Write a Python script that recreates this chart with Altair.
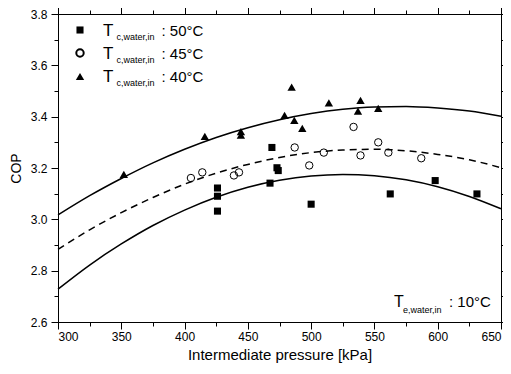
import altair as alt
import pandas as pd

# ---- data ----
p50 = [426, 426, 426, 469, 467.5, 473, 474, 500, 562.5, 598, 631]
cop50 = [3.122, 3.090, 3.032, 3.280, 3.141, 3.201, 3.190, 3.059, 3.099, 3.151, 3.099]

p45 = [405, 414, 439, 443, 487, 498.5, 510, 533.5, 539, 553, 561, 587]
cop45 = [3.161, 3.183, 3.171, 3.183, 3.280, 3.210, 3.260, 3.360, 3.249, 3.300, 3.260, 3.238]

p40 = [352, 416, 444.5, 444.5, 479, 484.6, 486.7, 493, 514, 537, 539, 553]
cop40 = [3.175, 3.323, 3.342, 3.328, 3.405, 3.515, 3.386, 3.354, 3.454, 3.422, 3.463, 3.432]

fit_p = [300, 325, 350, 375, 400, 425, 450, 475, 500, 525, 550, 575, 600, 625, 650]
fit50 = [2.728, 2.822, 2.904, 2.976, 3.036, 3.086, 3.125, 3.152, 3.169, 3.175, 3.170, 3.154, 3.127, 3.089, 3.041]
fit45 = [2.883, 2.959, 3.026, 3.085, 3.137, 3.180, 3.214, 3.241, 3.260, 3.270, 3.273, 3.267, 3.253, 3.232, 3.201]
fit40 = [3.017, 3.092, 3.159, 3.220, 3.273, 3.319, 3.357, 3.388, 3.412, 3.429, 3.438, 3.440, 3.434, 3.422, 3.402]

x_ticks = [300, 325, 350, 375, 400, 425, 450, 475, 500, 525, 550, 575, 600, 625, 650]
y_ticks = [2.6, 2.7, 2.8, 2.9, 3.0, 3.1, 3.2, 3.3, 3.4, 3.5, 3.6, 3.7, 3.8]

legend_labels = [": 50°C", ": 45°C", ": 40°C"]
legend_shapes = ["square", "circle", "triangle-up"]
legend_filled = [True, False, True]
legend_sizes = [50, 55, 70]

FONT = "Liberation Sans"
W, H = 443, 308

xscale = alt.Scale(domain=[300, 650], nice=False, zero=False)
yscale = alt.Scale(domain=[2.6, 3.8], nice=False, zero=False)

xtick_size = {"condition": {"test": "datum.value % 50 != 0", "value": 4}, "value": 7}
ytick_size = {"condition": {"test": "round(datum.value*10) % 2 != 0", "value": 4}, "value": 7}

x_axis = alt.Axis(values=x_ticks, tickSize=xtick_size, grid=False,
                  labelExpr="datum.value % 50 == 0 ? datum.label : ''",
                  labelFontSize=12, labelPadding=2, labelColor="black",
                  titleFontSize=15, titleFontWeight="normal", titlePadding=5,
                  titleColor="black", domainColor="black", tickColor="black",
                  title="Intermediate pressure [kPa]")
y_axis = alt.Axis(values=y_ticks, tickSize=ytick_size, grid=False,
                  labelExpr="round(datum.value*10) % 2 == 0 ? format(datum.value, '.1f') : ''",
                  labelFontSize=12, labelPadding=4, labelColor="black",
                  titleFontSize=14, titleFontWeight="normal", titlePadding=7,
                  titleColor="black", domainColor="black", tickColor="black",
                  title="COP")
top_axis = alt.Axis(orient="top", values=x_ticks, tickSize=xtick_size, labels=False,
                    title=None, grid=False, domainColor="black", tickColor="black")
right_axis = alt.Axis(orient="right", values=y_ticks, tickSize=ytick_size, labels=False,
                      title=None, grid=False, domainColor="black", tickColor="black")

fits = pd.DataFrame({"p": fit_p, "f50": fit50, "f45": fit45, "f40": fit40})

line50 = alt.Chart(fits).mark_line(color="black", strokeWidth=1.5, interpolate="monotone").encode(
    x=alt.X("p:Q", scale=xscale, axis=x_axis),
    y=alt.Y("f50:Q", scale=yscale, axis=y_axis),
)
line45 = alt.Chart(fits).mark_line(color="black", strokeWidth=1.5, strokeDash=[7, 5],
                                   interpolate="monotone").encode(
    x=alt.X("p:Q", scale=xscale, axis=None),
    y=alt.Y("f45:Q", scale=yscale, axis=None),
)
line40 = alt.Chart(fits).mark_line(color="black", strokeWidth=1.5, interpolate="monotone").encode(
    x=alt.X("p:Q", scale=xscale, axis=None),
    y=alt.Y("f40:Q", scale=yscale, axis=None),
)
frame = alt.Chart(fits).mark_line(opacity=0).encode(
    x=alt.X("p:Q", scale=xscale, axis=top_axis),
    y=alt.Y("f40:Q", scale=yscale, axis=right_axis),
)

d50 = pd.DataFrame({"p": p50, "cop": cop50})
d45 = pd.DataFrame({"p": p45, "cop": cop45})
d40 = pd.DataFrame({"p": p40, "cop": cop40})

pts50 = alt.Chart(d50).mark_point(shape="square", filled=True, color="black", size=50, opacity=1).encode(
    x=alt.X("p:Q", scale=xscale, axis=None), y=alt.Y("cop:Q", scale=yscale, axis=None))
pts45 = alt.Chart(d45).mark_point(shape="circle", filled=False, color="black", size=55,
                                  strokeWidth=1, opacity=1).encode(
    x=alt.X("p:Q", scale=xscale, axis=None), y=alt.Y("cop:Q", scale=yscale, axis=None))
pts40 = alt.Chart(d40).mark_point(shape="triangle-up", filled=True, color="black", size=70, opacity=1).encode(
    x=alt.X("p:Q", scale=xscale, axis=None), y=alt.Y("cop:Q", scale=yscale, axis=None))

one = pd.DataFrame({"a": [0]})
layers = [line50, line45, line40, frame, pts50, pts45, pts40]

row_y = [16, 39, 62.5]
for i in range(3):
    cy = row_y[i]
    layers.append(alt.Chart(one).mark_point(shape=legend_shapes[i], filled=legend_filled[i],
                                            color="black", size=legend_sizes[i], opacity=1).encode(
        x=alt.value(22), y=alt.value(cy)))
    layers.append(alt.Chart(one).mark_text(text="T", font=FONT, fontSize=17, align="left",
                                           baseline="alphabetic", color="black").encode(
        x=alt.value(45), y=alt.value(cy + 5.5)))
    layers.append(alt.Chart(one).mark_text(text="c,water,in", font=FONT, fontSize=9, align="left",
                                           baseline="alphabetic", color="black").encode(
        x=alt.value(58.5), y=alt.value(cy + 9.5)))
    layers.append(alt.Chart(one).mark_text(text=legend_labels[i], font=FONT, fontSize=15, align="left",
                                           baseline="alphabetic", color="black").encode(
        x=alt.value(103.5), y=alt.value(cy + 5.5)))

# bottom-right annotation
layers.append(alt.Chart(one).mark_text(text="T", font=FONT, fontSize=16, align="left",
                                       baseline="alphabetic", color="black").encode(
    x=alt.value(336), y=alt.value(293)))
layers.append(alt.Chart(one).mark_text(text="e,water,in", font=FONT, fontSize=9, align="left",
                                       baseline="alphabetic", color="black").encode(
    x=alt.value(345), y=alt.value(299)))
layers.append(alt.Chart(one).mark_text(text=": 10°C", font=FONT, fontSize=15, align="left",
                                       baseline="alphabetic", color="black").encode(
    x=alt.value(391), y=alt.value(293)))

chart = alt.layer(*layers).resolve_axis(x="independent", y="independent").properties(
    width=W, height=H,
    autosize=alt.AutoSizeParams(type="none"),
    padding={"left": 50, "top": 6, "right": 2, "bottom": 44},
).configure(font=FONT, background="white").configure_view(stroke="black", strokeWidth=1)

chart.save("out.html", embed_options={"renderer": "svg", "actions": False})
